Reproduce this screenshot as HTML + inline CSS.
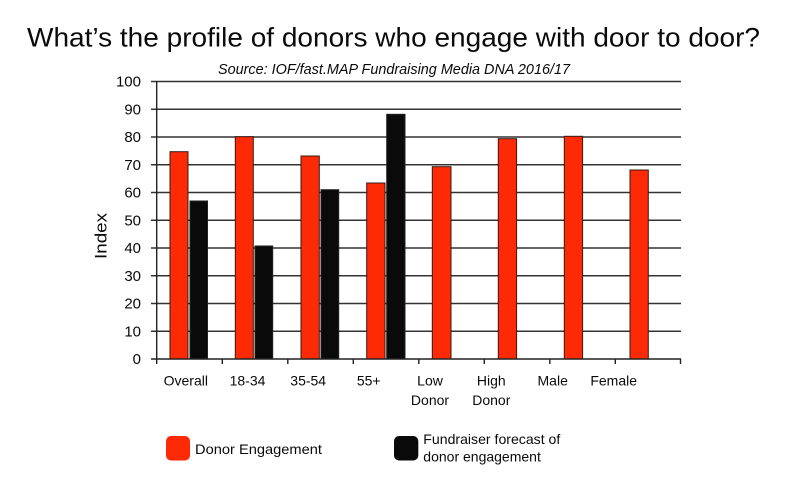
<!DOCTYPE html>
<html>
<head>
<meta charset="utf-8">
<style>
  html, body { margin: 0; padding: 0; background: #fff; }
  svg { display: block; }
  text { font-family: "Liberation Sans", "DejaVu Sans", sans-serif; fill: #0a0a0a; }
</style>
</head>
<body>
<svg width="800" height="493" viewBox="0 0 800 493" xmlns="http://www.w3.org/2000/svg">
  <rect x="0" y="0" width="800" height="493" fill="#fff"/>

  <!-- Title -->
  <text x="27" y="46.5" font-size="27" textLength="733" lengthAdjust="spacingAndGlyphs">What’s the profile of donors who engage with door to door?</text>
  <text x="218" y="74" font-size="15" font-style="italic" textLength="352" lengthAdjust="spacingAndGlyphs">Source: IOF/fast.MAP Fundraising Media DNA 2016/17</text>

  <!-- Gridlines -->
  <g stroke="#333" stroke-width="1.4">
    <line x1="151" y1="81.5" x2="681" y2="81.5"/>
    <line x1="151" y1="109.25" x2="681" y2="109.25"/>
    <line x1="151" y1="137" x2="681" y2="137"/>
    <line x1="151" y1="164.75" x2="681" y2="164.75"/>
    <line x1="151" y1="192.5" x2="681" y2="192.5"/>
    <line x1="151" y1="220.25" x2="681" y2="220.25"/>
    <line x1="151" y1="248" x2="681" y2="248"/>
    <line x1="151" y1="275.75" x2="681" y2="275.75"/>
    <line x1="151" y1="303.5" x2="681" y2="303.5"/>
    <line x1="151" y1="331.25" x2="681" y2="331.25"/>
  </g>

  <!-- Bars -->
  <g stroke="#3a1a10" stroke-width="1">
    <!-- Overall -->
    <rect x="170" y="151.7" width="18" height="207.3" fill="#fe2a06"/>
    <rect x="190" y="201" width="17.5" height="158" fill="#0a0a0a" stroke="#222"/>
    <!-- 18-34 -->
    <rect x="235.3" y="136.7" width="18" height="222.3" fill="#fe2a06"/>
    <rect x="255" y="246" width="17.7" height="113" fill="#0a0a0a" stroke="#222"/>
    <!-- 35-54 -->
    <rect x="301" y="156" width="18.3" height="203" fill="#fe2a06"/>
    <rect x="321" y="189.7" width="17.7" height="169.3" fill="#0a0a0a" stroke="#222"/>
    <!-- 55+ -->
    <rect x="366.7" y="183" width="18.3" height="176" fill="#fe2a06"/>
    <rect x="386.7" y="114.3" width="18.3" height="244.7" fill="#0a0a0a" stroke="#222"/>
    <!-- Low Donor -->
    <rect x="432.3" y="166.7" width="18.7" height="192.3" fill="#fe2a06"/>
    <!-- High Donor -->
    <rect x="498.3" y="138.7" width="18.3" height="220.3" fill="#fe2a06"/>
    <!-- Male -->
    <rect x="564.3" y="136.3" width="18.3" height="222.7" fill="#fe2a06"/>
    <!-- Female -->
    <rect x="630" y="170" width="18.3" height="189" fill="#fe2a06"/>
  </g>

  <!-- Axes -->
  <g stroke="#222" stroke-width="1.4">
    <line x1="156.7" y1="81" x2="156.7" y2="359"/>
    <line x1="151" y1="359" x2="681" y2="359"/>
    <line x1="156.7" y1="359" x2="156.7" y2="364"/>
    <line x1="222.3" y1="359" x2="222.3" y2="364"/>
    <line x1="287.8" y1="359" x2="287.8" y2="364"/>
    <line x1="353.3" y1="359" x2="353.3" y2="364"/>
    <line x1="418.8" y1="359" x2="418.8" y2="364"/>
    <line x1="484.3" y1="359" x2="484.3" y2="364"/>
    <line x1="549.8" y1="359" x2="549.8" y2="364"/>
    <line x1="615.3" y1="359" x2="615.3" y2="364"/>
    <line x1="680.5" y1="359" x2="680.5" y2="364"/>
  </g>

  <!-- Y tick labels -->
  <g font-size="15" text-anchor="end">
    <text x="141" y="86.7">100</text>
    <text x="141" y="114.5">90</text>
    <text x="141" y="142.2">80</text>
    <text x="141" y="170">70</text>
    <text x="141" y="197.7">60</text>
    <text x="141" y="225.5">50</text>
    <text x="141" y="253.2">40</text>
    <text x="141" y="281">30</text>
    <text x="141" y="308.7">20</text>
    <text x="141" y="336.5">10</text>
    <text x="141" y="364.2">0</text>
  </g>

  <!-- Y axis title -->
  <text x="0" y="0" font-size="17" text-anchor="middle" textLength="46" lengthAdjust="spacingAndGlyphs" transform="translate(106.5,236) rotate(-90)">Index</text>

  <!-- X category labels -->
  <g font-size="14" text-anchor="middle">
    <text x="185.8" y="385.5">Overall</text>
    <text x="247.5" y="385.5">18-34</text>
    <text x="308.2" y="385.5">35-54</text>
    <text x="368.7" y="385.5">55+</text>
    <text x="430" y="385.5">Low</text>
    <text x="430" y="405">Donor</text>
    <text x="491.3" y="385.5">High</text>
    <text x="491.3" y="405">Donor</text>
    <text x="552.7" y="385.5">Male</text>
    <text x="613.7" y="385.5">Female</text>
  </g>

  <!-- Legend -->
  <rect x="166" y="436" width="24" height="24.5" rx="5" ry="5" fill="#fe2a06"/>
  <text x="195" y="454" font-size="14" textLength="127" lengthAdjust="spacingAndGlyphs">Donor Engagement</text>
  <rect x="394" y="436" width="24.3" height="24.5" rx="5" ry="5" fill="#0a0a0a"/>
  <text x="423.3" y="444" font-size="14" textLength="137" lengthAdjust="spacingAndGlyphs">Fundraiser forecast of</text>
  <text x="423.3" y="461.5" font-size="14">donor engagement</text>
</svg>
</body>
</html>
